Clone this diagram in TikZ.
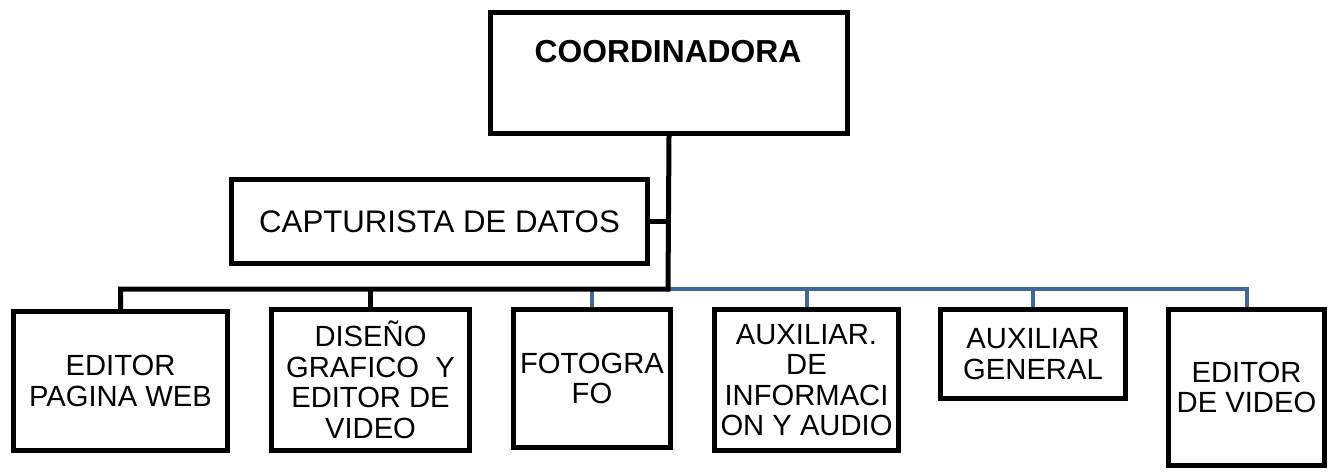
\documentclass[tikz,border=0pt]{standalone}
\usepackage{fontspec}
\setmainfont{Liberation Sans}
\usepackage{xcolor}
\usepackage{tikz}
\usetikzlibrary{calc}
\usetikzlibrary{positioning}
\tikzset{>=stealth}
\definecolor{busblue}{RGB}{65,104,152}

\begin{document}
\begin{tikzpicture}[x=0.5pt, y=-0.5pt,
        box/.style={draw, fill=white, line width=2.5pt, align=center, inner sep=1pt, font=\fontsize{14.6}{15.3}\selectfont},
        conn/.style={line width=2.5pt},
        blueconn/.style={draw=busblue, line width=2pt}]
    \fill[white] (0,0) rectangle (1337,471);
    \useasboundingbox (0,0) rectangle (1337,471);
    % top of the chart
    \node (coord) [box, minimum width=178.5pt, minimum height=60.5pt] at (669,73) {};
    \node (coordtxt) [font=\bfseries\fontsize{15.9}{16}\selectfont] at (668,52) {COORDINADORA};
    \node (capt) [box, minimum width=208pt, minimum height=42pt, font=\fontsize{15.6}{16}\selectfont] at (439.5,221.5) {CAPTURISTA DE DATOS};
    % bottom row
    \node (epw) [box, minimum width=107pt, minimum height=69.5pt] at (120.5,381) {EDITOR\\PAGINA WEB};
    \node (dis) [box, minimum width=99pt, minimum height=70.5pt] at (370.5,380) {DISEÑO\\GRAFICO\ \ Y\\EDITOR DE\\VIDEO};
    \node (fot) [box, minimum width=78.5pt, minimum height=69pt] at (592,378.5) {FOTOGRA\\FO};
    \node (aux) [box, minimum width=92pt, minimum height=70.5pt] at (806.5,380) {AUXILIAR.\\DE\\INFORMACI\\ON Y AUDIO};
    \node (gen) [box, minimum width=92.5pt, minimum height=44.5pt] at (1033,354) {AUXILIAR\\GENERAL};
    \node (edv) [box, minimum width=78pt, minimum height=78pt] at (1246.5,387.5) {EDITOR\\DE VIDEO};
    \coordinate (bus) at (668,289);
    % connectors
    \draw[blueconn] (fot.north) |- (edv.north |- bus) -- (edv.north);
    \foreach \n in {aux,gen}
        \draw[blueconn] (\n.north) -- (\n.north |- bus);
    \draw[conn] (coord.south) -- (bus) -| (epw.north);
    \draw[conn] (capt.east) -- (capt.east -| bus);
    \draw[conn] (dis.north) -- (dis.north |- bus);
\end{tikzpicture}
\end{document}
